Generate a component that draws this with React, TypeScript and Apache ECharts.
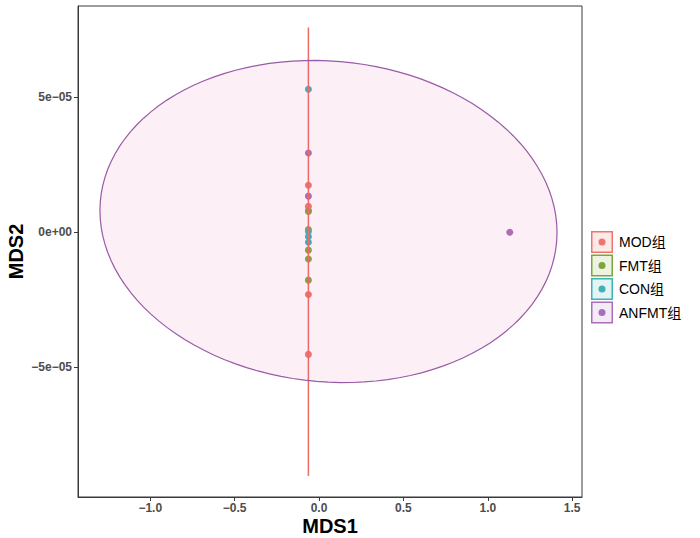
import React, { useEffect, useRef } from "react";
import * as echarts from "echarts";

// ---- data ----
const groups = ["MOD组", "FMT组", "CON组", "ANFMT组"];
const groupColors = ["#EC766E", "#7DA63A", "#3DB2B7", "#AA6FBA"];
const groupFills = ["rgba(236,118,110,0.16)", "rgba(125,166,58,0.14)", "rgba(61,178,183,0.14)", "rgba(170,111,186,0.14)"];

const modX = [-0.063, -0.063, -0.063, -0.063, -0.063];
const modY = [1.74e-5, 0.96e-5, 0.81e-5, -2.30e-5, -4.52e-5];
const fmtX = [-0.063, -0.063, -0.063, -0.063, -0.063];
const fmtY = [0.77e-5, 0.10e-5, -0.66e-5, -0.99e-5, -1.77e-5];
const conX = [-0.063, -0.063, -0.063, -0.063];
const conY = [5.30e-5, 0.03e-5, -0.16e-5, -0.37e-5];
const anfmtX = [-0.063, -0.063, 1.13];
const anfmtY = [2.94e-5, 1.34e-5, 0.0];

// ellipse statistics (center, x-radius, y coupling, y-radius)
const ellipseNames = ["MOD组", "ANFMT组"];
const ellipseCx = [-0.063, 0.056];
const ellipseCy = [-0.72e-5, 0.40e-5];
const ellipseRx = [0, 1.354];
const ellipseRyCos = [0, -0.407e-5];
const ellipseRySin = [8.3e-5, 5.95e-5];

const xTicks = [-1.0, -0.5, 0.0, 0.5, 1.0, 1.5];
const xTickLabels = ["−1.0", "−0.5", "0.0", "0.5", "1.0", "1.5"];
const yTicks = [-5e-5, 0, 5e-5];
const yTickLabels = ["−5e−05", "0e+00", "5e−05"];

const FONT = "Liberation Sans, Arial, Noto Sans CJK SC, sans-serif";

function pickLabel(v: number, ticks: number[], labels: string[]) {
  let best = 0;
  let bd = Infinity;
  ticks.forEach((t, i) => {
    const d = Math.abs(t - v);
    if (d < bd) {
      bd = d;
      best = i;
    }
  });
  return labels[best];
}

const ellipseStroke = ["#EE6A62", "#9A5AA6"];
const ellipseFill = ["rgba(238,106,98,0.05)", "rgba(225,95,165,0.1)"];

export default function App() {
  const ref = useRef<HTMLDivElement>(null);
  useEffect(() => {
    if (!ref.current) return;
    const chart = echarts.init(ref.current, null, { renderer: "svg" });
    const pointSets = [
      [modX, modY],
      [fmtX, fmtY],
      [conX, conY],
      [anfmtX, anfmtY],
    ];
    const scatterSeries = groups.map((g, gi) => ({
      type: "scatter",
      name: g,
      symbol: "circle",
      symbolSize: 7,
      itemStyle: { color: groupColors[gi], opacity: 1 },
      data: pointSets[gi][0].map((x, i) => [x, pointSets[gi][1][i]]),
      z: 2,
    }));
    const ellipseData = ellipseNames.map((_, i) => [ellipseCx[i], ellipseCy[i], i]);
    const ellipseSeries = {
      type: "custom",
      name: "ellipses",
      z: 3,
      silent: true,
      data: ellipseData,
      encode: { x: 0, y: 1 },
      renderItem: (params: any, api: any) => {
        const i = api.value(2);
        const pts: number[][] = [];
        const N = 120;
        for (let k = 0; k <= N; k++) {
          const t = (2 * Math.PI * k) / N;
          const x = ellipseCx[i] + ellipseRx[i] * Math.cos(t);
          const y = ellipseCy[i] + ellipseRyCos[i] * Math.cos(t) + ellipseRySin[i] * Math.sin(t);
          pts.push(api.coord([x, y]));
        }
        return {
          type: "polygon",
          shape: { points: pts },
          style: {
            fill: ellipseFill[i],
            stroke: ellipseStroke[i],
            lineWidth: i === 0 ? 1.5 : 1.2,
          },
        };
      },
    };

    const ringIcon =
      "path://M0,0 L22,0 L22,22 L0,22 Z M1.5,1.5 L1.5,20.5 L20.5,20.5 L20.5,1.5 Z M14.5,11 A3.5,3.5 0 1,1 7.5,11 A3.5,3.5 0 1,1 14.5,11 Z";

    const legendTop = 231;
    const legendLeft = 591;
    const itemH = 22;
    const gap = 1.5;

    chart.setOption({
      animation: false,
      backgroundColor: "#ffffff",
      textStyle: { fontFamily: FONT },
      grid: {
        left: 78,
        top: 6,
        right: 118,
        bottom: 41,
        containLabel: false,
        outerBoundsMode: "none",
        show: true,
        borderColor: "#3a3a3a",
        borderWidth: 1,
        backgroundColor: "transparent",
      },
      xAxis: {
        type: "value",
        min: -1.428,
        max: 1.558,
        name: "MDS1",
        nameLocation: "middle",
        nameGap: 19,
        nameMoveOverlap: false,
        nameTextStyle: { fontSize: 20, fontWeight: "bold", color: "#000", fontFamily: FONT, lineHeight: 20 },
        splitLine: { show: false },
        axisLine: { show: true, onZero: false, lineStyle: { color: "#3a3a3a", width: 1 } },
        axisTick: { show: true, length: 4, customValues: xTicks, lineStyle: { color: "#3a3a3a" } },
        axisLabel: {
          customValues: xTicks,
          margin: 5,
          fontSize: 12,
          fontWeight: "bold",
          color: "#4d4d4d",
          fontFamily: FONT,
          formatter: (v: number) => pickLabel(v, xTicks, xTickLabels),
        },
      },
      yAxis: {
        type: "value",
        min: -9.8e-5,
        max: 8.38e-5,
        name: "MDS2",
        nameLocation: "middle",
        nameGap: 52,
        nameMoveOverlap: false,
        nameTextStyle: { fontSize: 20, fontWeight: "bold", color: "#000", fontFamily: FONT, lineHeight: 20 },
        splitLine: { show: false },
        axisLine: { show: true, onZero: false, lineStyle: { color: "#3a3a3a", width: 1 } },
        axisTick: { show: true, length: 4, customValues: yTicks, lineStyle: { color: "#3a3a3a" } },
        axisLabel: {
          customValues: yTicks,
          margin: 6,
          fontSize: 12,
          fontWeight: "bold",
          color: "#4d4d4d",
          fontFamily: FONT,
          formatter: (v: number) => pickLabel(v, yTicks, yTickLabels),
        },
      },
      legend: {
        orient: "vertical",
        left: legendLeft,
        top: legendTop,
        padding: 0,
        itemWidth: 22,
        itemHeight: itemH,
        itemGap: gap,
        icon: ringIcon,
        data: groups,
        textStyle: { fontSize: 14, color: "#000", fontFamily: FONT, padding: [0, 0, 0, 1] },
        z: 10,
      },
      graphic: groups.map((g, gi) => ({
        type: "rect",
        left: legendLeft + 1,
        top: legendTop + gi * (itemH + gap) + 1,
        z: 0,
        shape: { width: 20, height: 20 },
        style: { fill: groupFills[gi] },
        silent: true,
      })),
      series: [...scatterSeries, ellipseSeries],
    });
    return () => chart.dispose();
  }, []);
  return (
    <div
      ref={ref}
      style={{ position: "fixed", left: 0, top: 0, width: 700, height: 538 }}
    />
  );
}
